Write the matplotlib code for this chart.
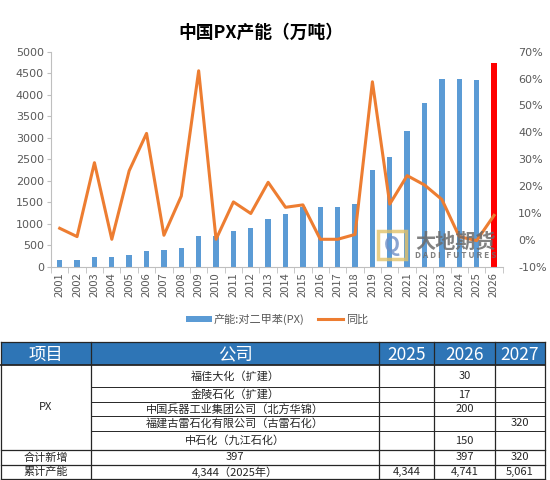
#!/usr/bin/env python3
# -*- coding: utf-8 -*-
"""
中国PX产能（万吨）柱线图 + 新增产能表
"""

import numpy as np
import matplotlib
matplotlib.use('Agg')
import matplotlib.pyplot as plt
from matplotlib.patches import Rectangle, Patch
from matplotlib.lines import Line2D
from matplotlib.ticker import FuncFormatter

plt.rcParams['font.family'] = ['Noto Sans CJK SC', 'DejaVu Sans']

# ---- 图表数据 ----
years = [str(y) for y in range(2001, 2027)]
capacity = [155, 155, 217, 217, 271, 372, 388, 442, 721, 721, 822, 899, 1101,
            1233, 1393, 1395, 1395, 1450, 2248, 2550, 3155, 3798, 4372, 4372,
            4344, 4741]
yoy = [4.3, 1.2, 28.7, 0.2, 25.7, 39.6, 1.7, 16.3, 62.9, 0.2, 14.1, 9.8, 21.4,
       12.1, 13.0, 0.2, 0.2, 2.0, 58.8, 13.3, 23.9, 20.4, 15.0, 1.2, -0.3, 9.1]
bar_label = '产能:对二甲苯(PX)'
line_label = '同比'
title = '中国PX产能（万吨）'

# ---- 表格数据 ----
table_header = ['项目', '公司', '2025', '2026', '2027']
item_name = 'PX'
companies = ['福佳大化（扩建）', '金陵石化（扩建）', '中国兵器工业集团公司（北方华锦）',
             '福建古雷石化有限公司（古雷石化）', '中石化（九江石化）']
add_2025 = ['', '', '', '', '']
add_2026 = ['30', '17', '200', '', '150']
add_2027 = ['', '', '', '320', '']
total_new = ['合计新增', '397', '', '397', '320']
total_cap = ['累计产能', '4,344（2025年）', '4,344', '4,741', '5,061']

W, H = 550, 480
BLUE = '#5B9BD5'
RED = '#FF0000'
ORANGE = '#ED7D31'
GRAY = '#595959'
HEAD = '#2E75B6'


def px_box(x0, y0, x1, y1):
    """像素坐标(左上原点) -> figure 坐标"""
    return [x0 / W, 1 - y1 / H, (x1 - x0) / W, (y1 - y0) / H]


fig = plt.figure(figsize=(W / 100, H / 100), dpi=100)

# ---- 柱线图 ----
ax = fig.add_axes(px_box(51, 51.7, 502.7, 266.7))
x = np.arange(len(years))
colors = [BLUE] * (len(years) - 1) + [RED]
ax.bar(x, capacity, width=0.31, color=colors, zorder=2)
ax.set_xlim(-0.5, len(years) - 0.5)
ax.set_ylim(0, 5000)
ax.set_yticks(np.arange(0, 5001, 500))
ax.set_xticks(x)
ax.set_xticklabels(years, rotation=90)
ax.set_xticks(np.arange(-0.5, len(years), 1), minor=True)
ax.tick_params(axis='x', which='major', length=0, labelsize=8,
               labelcolor=GRAY, pad=4)
ax.tick_params(axis='x', which='minor', length=4, color='#BFBFBF')
ax.tick_params(axis='y', length=3, color='#BFBFBF', labelsize=8,
               labelcolor=GRAY, pad=2)
for lab in ax.get_yticklabels():
    lab.set_family('DejaVu Sans')
for side in ['top', 'right']:
    ax.spines[side].set_visible(False)
for side in ['left', 'bottom']:
    ax.spines[side].set_color('#BFBFBF')

ax2 = ax.twinx()
ax2.plot(x, yoy, color=ORANGE, lw=2.2, zorder=3)
ax2.set_ylim(-10, 70)
ax2.set_yticks(np.arange(-10, 71, 10))
ax2.yaxis.set_major_formatter(FuncFormatter(lambda v, p: f'{v:.0f}%'))
ax2.tick_params(axis='y', length=0, labelsize=8, labelcolor=GRAY, pad=11)
for lab in ax2.get_yticklabels():
    lab.set_family('DejaVu Sans')
for side in ['top', 'right', 'left', 'bottom']:
    ax2.spines[side].set_visible(False)

fig.text(261 / W, 1 - 33 / H, title, ha='center', va='center',
         fontsize=12.8, fontweight='bold')

handles = [Patch(facecolor=BLUE, edgecolor='none'),
           Line2D([0], [0], color=ORANGE, lw=2.2)]
fig.legend(handles, [bar_label, line_label], loc='center',
           bbox_to_anchor=(277 / W, 1 - 319 / H), ncol=2, frameon=False,
           fontsize=8, labelcolor=GRAY, handlelength=2.3, handleheight=0.5,
           handletextpad=0.2, columnspacing=1.2)

# ---- 表格与水印（像素坐标覆盖层） ----
ov = fig.add_axes([0, 0, 1, 1])
ov.set_xlim(0, W)
ov.set_ylim(H, 0)
ov.axis('off')
ov.patch.set_alpha(0)

# 水印
ov.add_patch(Rectangle((378, 231), 28, 28, fill=False, ec='#E3C36A', lw=2.5,
                       alpha=0.8))
ov.text(392, 246, 'Q', ha='center', va='center', fontsize=15,
        color='#6E8FC6', alpha=0.8, fontweight='bold')
ov.text(456, 241, '大地期货', ha='center', va='center', fontsize=14.5,
        fontweight='bold', color='#6B6B6B', alpha=0.85)
ov.text(456, 256, 'D A D I   F U T U R E S', ha='center', va='center',
        fontsize=6, fontweight='bold', color='#6B6B6B', alpha=0.85)

cols = [1, 91, 379, 434, 495, 545]
rows = [342, 365, 387, 402, 416, 431, 450, 465, 479]
LC = '#262626'

ov.add_patch(Rectangle((cols[0], rows[0]), cols[-1] - cols[0],
                       rows[1] - rows[0], facecolor=HEAD, edgecolor='none'))
for i, txt in enumerate(table_header):
    ov.text((cols[i] + cols[i + 1]) / 2, (rows[0] + rows[1]) / 2 + 1, txt,
            ha='center', va='center', color='white', fontsize=12.5)

# 明细行
for r, comp in enumerate(companies):
    yc = (rows[r + 1] + rows[r + 2]) / 2
    vals = [comp, add_2025[r], add_2026[r], add_2027[r]]
    for c, v in enumerate(vals):
        ov.text((cols[c + 1] + cols[c + 2]) / 2, yc, v, ha='center',
                va='center', fontsize=8, color='#262626')
ov.text((cols[0] + cols[1]) / 2, (rows[1] + rows[6]) / 2, item_name,
        ha='center', va='center', fontsize=8, color='#262626')

# 合计行
for r, vals in zip([6, 7], [total_new, total_cap]):
    yc = (rows[r] + rows[r + 1]) / 2
    for c, v in enumerate(vals):
        ov.text((cols[c] + cols[c + 1]) / 2, yc, v, ha='center', va='center',
                fontsize=8, color='#262626')

# 线条
for c in cols:
    ov.plot([c, c], [rows[0], rows[-1]], color=LC, lw=0.9)
ov.plot([cols[0], cols[-1]], [rows[0], rows[0]], color=LC, lw=0.9)
ov.plot([cols[0], cols[-1]], [rows[1], rows[1]], color=LC, lw=1.3)
for yr in rows[2:6]:
    ov.plot([cols[1], cols[-1]], [yr, yr], color=LC, lw=0.7)
for yr in rows[6:]:
    ov.plot([cols[0], cols[-1]], [yr, yr], color=LC, lw=0.9)

fig.savefig('out.png', dpi=100)
